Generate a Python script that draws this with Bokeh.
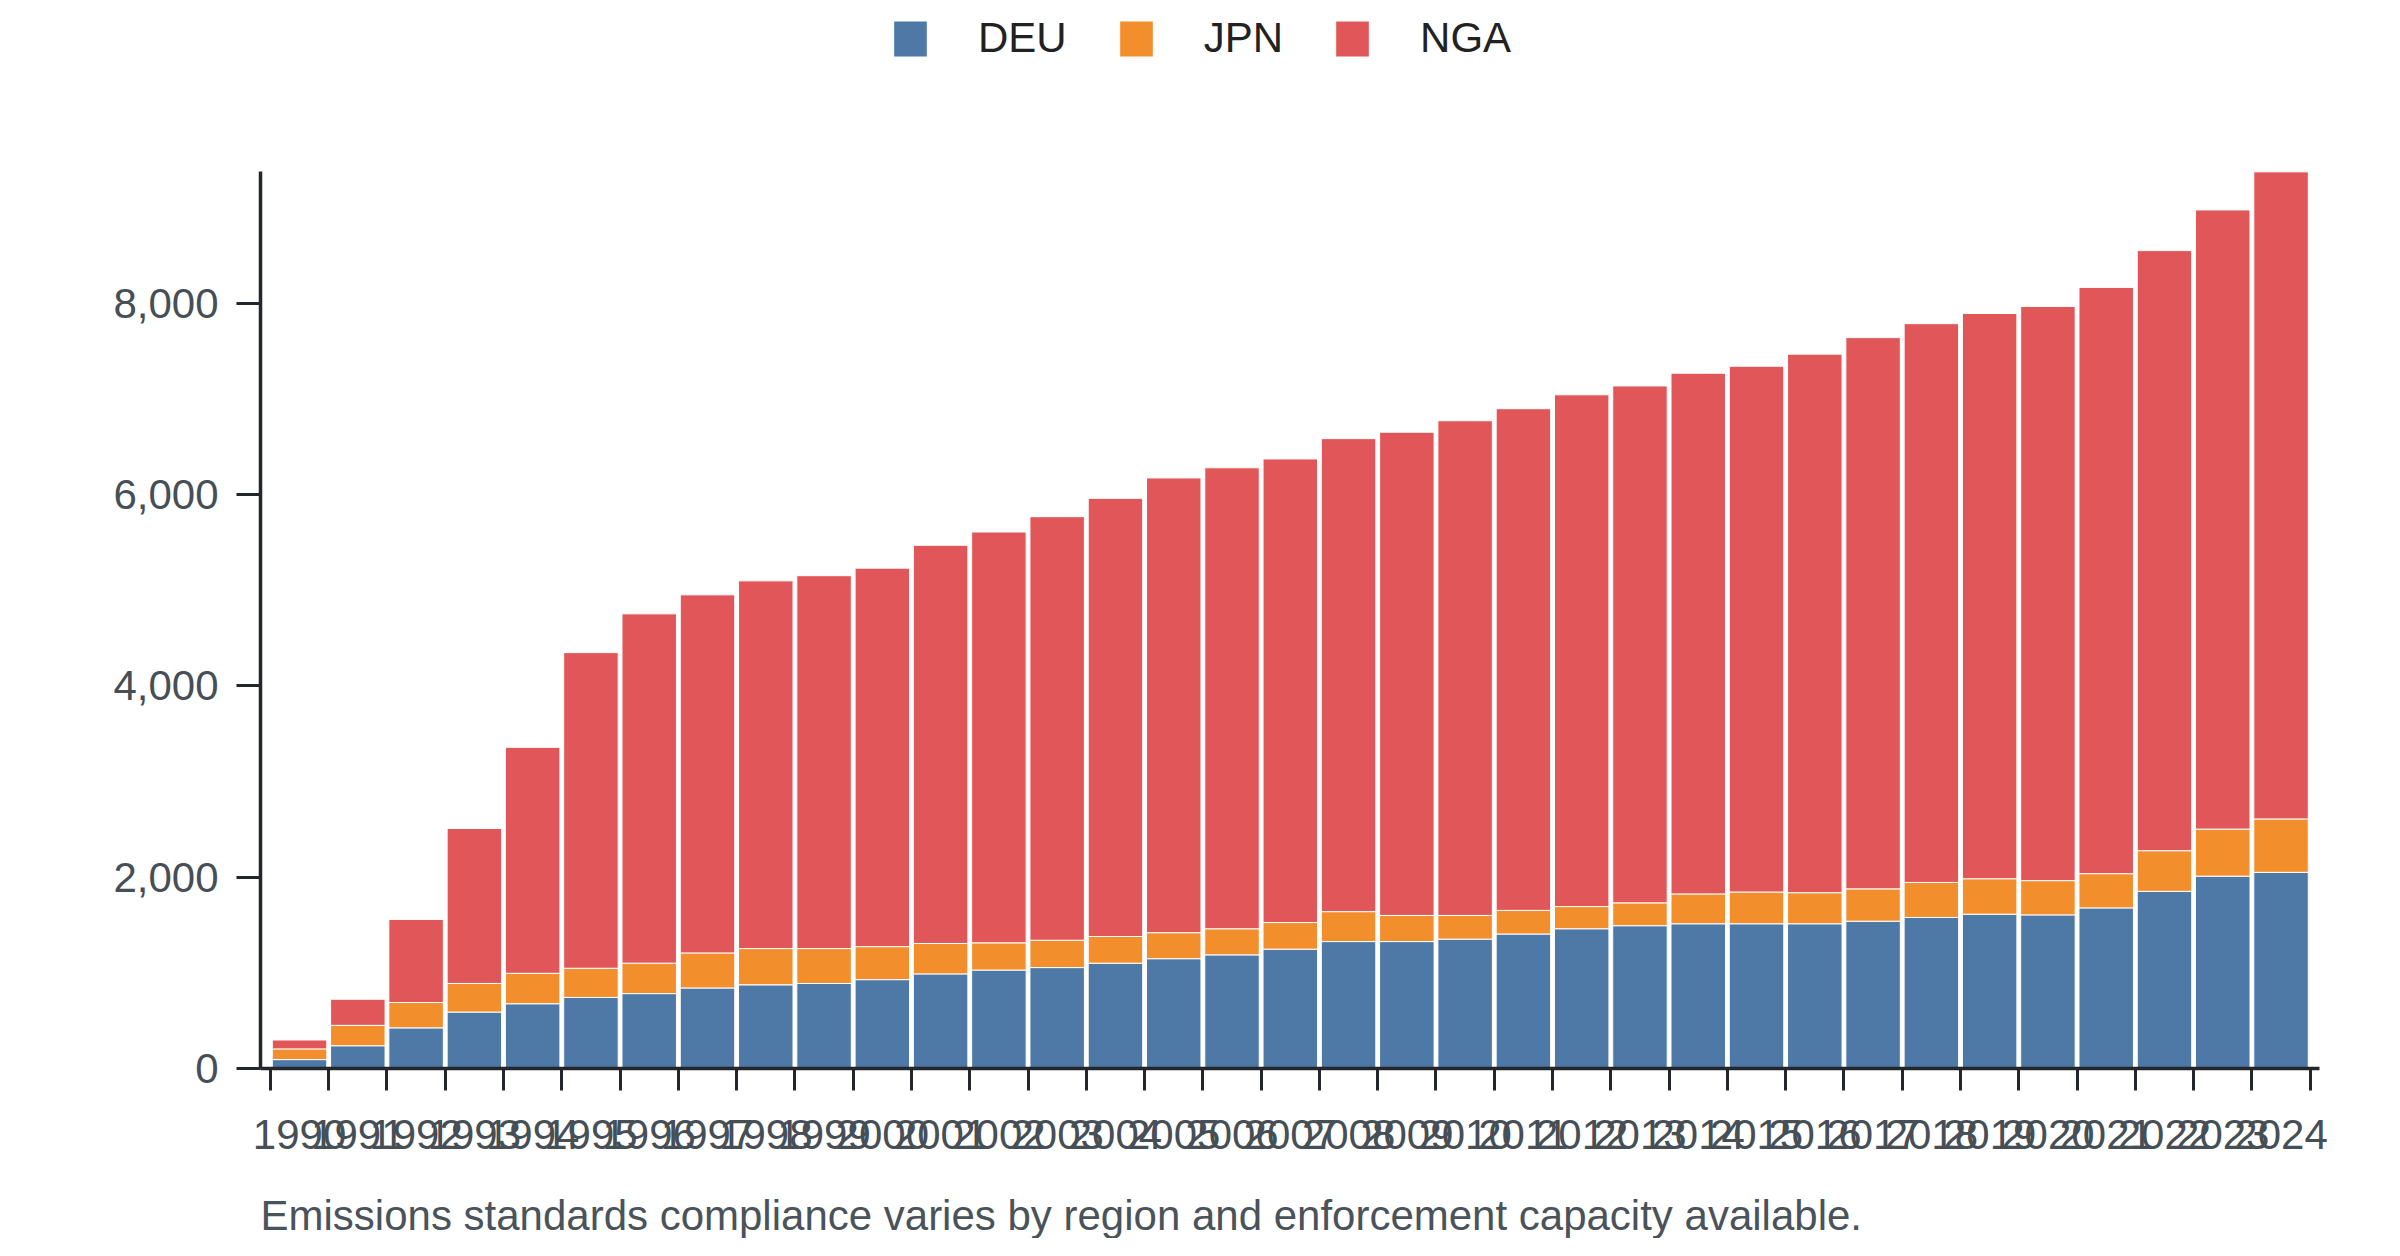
from bokeh.plotting import figure
from bokeh.models import Range1d, FixedTicker, NumeralTickFormatter, ColumnDataSource, Title, Legend
from bokeh.embed import file_html
from bokeh.resources import INLINE

years = list(range(1990, 2025))
deu = [93, 238, 425, 590, 677, 743, 783, 842, 875, 889, 929, 989, 1029, 1055, 1101, 1148, 1188, 1248,
       1327, 1327, 1353, 1406, 1461, 1493, 1513, 1513, 1513, 1540, 1579, 1613, 1606, 1679, 1852, 2011, 2051]
jpn = [112, 213, 265, 299, 318, 305, 318, 366, 379, 365, 345, 318, 285, 286, 279, 272, 273, 278,
       313, 273, 247, 247, 232, 239, 312, 332, 325, 338, 366, 371, 358, 358, 425, 492, 558]
nga = [93, 273, 869, 1620, 2363, 3300, 3652, 3744, 3844, 3898, 3957, 4163, 4295, 4428, 4581, 4754, 4819, 4847,
       4945, 5052, 5172, 5245, 5350, 5404, 5444, 5497, 5630, 5763, 5842, 5909, 6003, 6129, 6274, 6473, 6765]
series = ["DEU", "JPN", "NGA"]
colors = ["#4e79a7", "#f28e2b", "#e15759"]
y_ticks = [0, 2000, 4000, 6000, 8000]
caption = "Emissions standards compliance varies by region and enforcement capacity available."

FONT = "Liberation Sans"
totals = [a + b + c for a, b, c in zip(deu, jpn, nga)]
y_max = max(totals)

# layout (pixels): the frame runs from the top of the canvas down to the x axis;
# the value axis starts AXIS_TOP px below the canvas top
H = 1238
FRAME_BOTTOM = 1072
AXIS_TOP = 172
y_end = y_max * FRAME_BOTTOM / (FRAME_BOTTOM - AXIS_TOP)

src = ColumnDataSource(dict(x=[y + 0.5 for y in years], DEU=deu, JPN=jpn, NGA=nga))

p = figure(width=2384, height=H,
           x_range=Range1d(1989.83, 2025.16), y_range=Range1d(0, y_end),
           output_backend="svg", toolbar_location=None,
           min_border_left=260, min_border_right=65, min_border_top=0, min_border_bottom=0)

renderers = p.vbar_stack(series, x="x", width=0.935, color=colors, line_color="white",
                         line_width=1, source=src)

p.xgrid.visible = False
p.ygrid.visible = False
p.outline_line_color = None
p.background_fill_color = "white"

axis_color = "#23262a"
label_color = "#464e56"

xa = p.xaxis[0]
xa.ticker = FixedTicker(ticks=[y + 0.5 for y in years], minor_ticks=list(range(1990, 2026)))
xa.major_label_overrides = {y + 0.5: str(y) for y in years}
xa.major_tick_line_color = None
xa.major_tick_out = 0
xa.major_tick_in = 0
xa.minor_tick_out = 22
xa.minor_tick_in = 0
xa.minor_tick_line_width = 3
xa.minor_tick_line_color = axis_color
xa.axis_line_width = 3.5
xa.axis_line_color = axis_color
xa.major_label_standoff = 29
xa.major_label_text_font = FONT
xa.major_label_text_font_size = "42px"
xa.major_label_text_color = label_color

ya = p.yaxis[0]
ya.ticker = FixedTicker(ticks=y_ticks)
ya.bounds = (0, y_max)
ya.formatter = NumeralTickFormatter(format="0,0")
ya.major_tick_out = 24
ya.major_tick_in = 0
ya.major_tick_line_width = 3
ya.major_tick_line_color = axis_color
ya.minor_tick_line_color = None
ya.axis_line_width = 3.5
ya.axis_line_color = axis_color
ya.major_label_standoff = 18
ya.major_label_text_font = FONT
ya.major_label_text_font_size = "42px"
ya.major_label_text_color = label_color

legend = Legend(items=[(s, [r]) for s, r in zip(series, renderers)],
                orientation="horizontal", location=(629, 1006),
                glyph_width=42, glyph_height=45, label_standoff=47, spacing=48,
                padding=0, margin=0, border_line_color=None, background_fill_alpha=0,
                label_text_font=FONT, label_text_font_size="42px", label_text_color="#222222")
p.add_layout(legend, "center")

# spacing between tick labels and caption
spacer = Title(text=" ", text_font_size="1px", standoff=35)
p.add_layout(spacer, "below")

t = Title(text=caption, align="left", text_font=FONT, text_font_size="42px",
          text_font_style="normal", text_color="#4a525a", standoff=0)
p.add_layout(t, "below")

open("out.html", "w").write(file_html(p, INLINE))
